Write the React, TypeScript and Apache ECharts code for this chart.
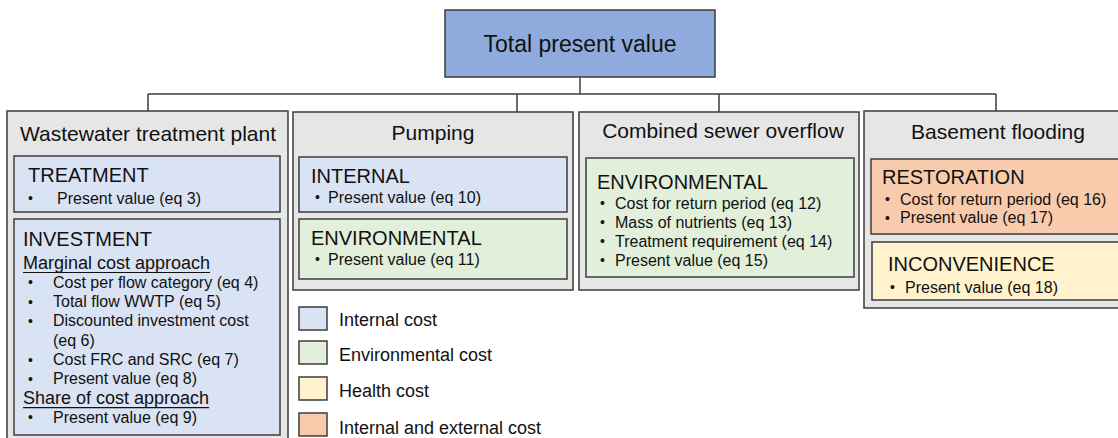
import React, { useEffect, useRef } from "react";
import * as echarts from "echarts";

// ---------- data ----------
const rootLabel = "Total present value";
const categories = ["Wastewater treatment plant", "Pumping", "Combined sewer overflow", "Basement flooding"];
const costTypes = ["Internal cost", "Environmental cost", "Health cost", "Internal and external cost"];
const sectionTitles = ["TREATMENT", "INVESTMENT", "INTERNAL", "ENVIRONMENTAL", "ENVIRONMENTAL", "RESTORATION", "INCONVENIENCE"];
const sectionCostType = [0, 0, 0, 1, 1, 3, 2];
// "#" marks an underlined sub-heading, "~" a continuation line without bullet
const sectionLines: string[][] = [
  ["Present value (eq 3)"],
  [
    "#Marginal cost approach",
    "Cost per flow category (eq 4)",
    "Total flow WWTP (eq 5)",
    "Discounted investment cost",
    "~(eq 6)",
    "Cost FRC and SRC (eq 7)",
    "Present value (eq 8)",
    "#Share of cost approach",
    "Present value (eq 9)",
  ],
  ["Present value (eq 10)"],
  ["Present value (eq 11)"],
  ["Cost for return period (eq 12)", "Mass of nutrients (eq 13)", "Treatment requirement (eq 14)", "Present value (eq 15)"],
  ["Cost for return period (eq 16)", "Present value (eq 17)"],
  ["Present value (eq 18)"],
];

// ---------- styles / layout ----------
const FONT = "'Liberation Sans', Arial, Helvetica, sans-serif";
const BORDER = "#3c3c3c";
const costColors = ["#dae3f3", "#e2efda", "#fff2cc", "#f8cbad"];
const rootColor = "#8faadc";
const catColor = "#e6e6e6";

const rootBox = { x: 445, y: 10, w: 270, h: 67 };
const catBoxes = [
  { x: 7, y: 111, w: 281, h: 335, tx: 148, ty: 133 },
  { x: 293, y: 112, w: 280, h: 178, tx: 433, ty: 132 },
  { x: 579, y: 112, w: 280, h: 178, tx: 723, ty: 130 },
  { x: 864, y: 111, w: 262, h: 197, tx: 998, ty: 131 },
];
const connectorXs = [148, 517, 719, 996];
const busY = 94;
const secBoxes = [
  { x: 14, y: 156, w: 266, h: 56, tx: 28, ty: 175, bx: 28, lx: 57, ly: 198, step: 19 },
  { x: 14, y: 219, w: 266, h: 216, tx: 23, ty: 239, bx: 28, lx: 53, ly: 263, step: 19.3 },
  { x: 299, y: 157, w: 268, h: 55, tx: 311, ty: 176, bx: 315, lx: 328, ly: 197, step: 19 },
  { x: 299, y: 219, w: 268, h: 60, tx: 311, ty: 238, bx: 315, lx: 328, ly: 259, step: 19 },
  { x: 586, y: 158, w: 268, h: 119, tx: 597, ty: 182, bx: 600, lx: 615, ly: 203, step: 19 },
  { x: 871, y: 159, w: 260, h: 75, tx: 882, ty: 177, bx: 885, lx: 900, ly: 199, step: 18.5 },
  { x: 872, y: 242, w: 260, h: 58, tx: 888, ty: 264, bx: 890, lx: 905, ly: 287, step: 19 },
];
const legendPos = { x: 299, w: 28, h: 23, tx: 339, ys: [307, 341, 377, 413], tys: [320, 355, 391, 428] };

function rect(x: number, y: number, w: number, h: number, fill: string) {
  return {
    type: "rect",
    shape: { x, y, width: w, height: h },
    style: { fill, stroke: BORDER, lineWidth: 1.5 },
  };
}
function text(x: number, y: number, t: string, size: number, align = "left") {
  return {
    type: "text",
    x,
    y,
    style: {
      text: t,
      fontSize: size,
      fontFamily: FONT,
      fill: "#111111",
      textAlign: align,
      align,
      textVerticalAlign: "middle",
      verticalAlign: "middle",
    },
  };
}
function line(x1: number, y1: number, x2: number, y2: number, w = 1.5, c = BORDER) {
  return { type: "line", shape: { x1, y1, x2, y2 }, style: { stroke: c, lineWidth: w } };
}

function measure(t: string, size: number) {
  const c = document.createElement("canvas").getContext("2d");
  if (!c) return t.length * size * 0.5;
  c.font = `${size}px ${FONT}`;
  return c.measureText(t).width;
}

export default function App() {
  const ref = useRef<HTMLDivElement>(null);
  useEffect(() => {
    document.body.style.margin = "0";
    if (!ref.current) return;
    const chart = echarts.init(ref.current, undefined, { renderer: "svg" });
    const els: any[] = [];

    // connectors
    els.push(line(580, rootBox.y + rootBox.h, 580, busY));
    els.push(line(connectorXs[0], busY, connectorXs[connectorXs.length - 1], busY));
    connectorXs.forEach((cx, i) => els.push(line(cx, busY, cx, catBoxes[i].y)));

    // root
    els.push(rect(rootBox.x, rootBox.y, rootBox.w, rootBox.h, rootColor));
    els.push(text(rootBox.x + rootBox.w / 2, rootBox.y + 34, rootLabel, 23, "center"));

    // categories
    categories.forEach((c, i) => {
      const b = catBoxes[i];
      els.push(rect(b.x, b.y, b.w, b.h, catColor));
      els.push(text(b.tx, b.ty, c, 21, "center"));
    });

    // sections
    sectionTitles.forEach((t, i) => {
      const b = secBoxes[i];
      els.push(rect(b.x, b.y, b.w, b.h, costColors[sectionCostType[i]]));
      els.push(text(b.tx, b.ty, t, 20));
      sectionLines[i].forEach((ln, j) => {
        const y = b.ly + j * b.step;
        if (ln.startsWith("#")) {
          const s = ln.slice(1);
          els.push(text(b.tx, y, s, 18));
          const w = measure(s, 18);
          els.push(line(b.tx, y + 9.5, b.tx + w, y + 9.5, 1.2, "#111111"));
        } else if (ln.startsWith("~")) {
          els.push(text(b.lx, y, ln.slice(1), 16));
        } else {
          els.push(text(b.bx, y, "•", 14));
          els.push(text(b.lx, y, ln, 16));
        }
      });
    });

    // legend
    costTypes.forEach((c, i) => {
      const y = legendPos.ys[i];
      els.push(rect(legendPos.x, y, legendPos.w, legendPos.h, costColors[i]));
      els.push(text(legendPos.tx, legendPos.tys[i], c, 18));
    });

    chart.setOption({ animation: false, graphic: { elements: els } });
    return () => chart.dispose();
  }, []);
  return (
    <div
      ref={ref}
      style={{ position: "absolute", left: 0, top: 0, width: 1118, height: 438, background: "#ffffff" }}
    />
  );
}
